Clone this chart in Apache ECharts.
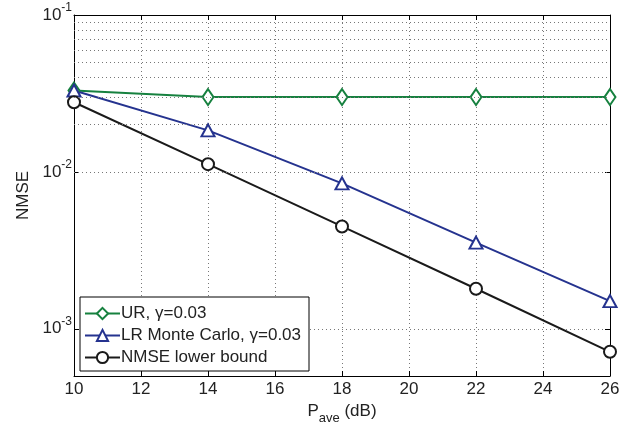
<!DOCTYPE html>
<html>
<head>
<meta charset="utf-8">
<script src="https://cdn.jsdelivr.net/npm/echarts@6/dist/echarts.min.js"></script>
<style>html,body{margin:0;padding:0;background:#fff;}#c{width:636px;height:425px;}</style>
</head>
<body>
<div id="c"></div>
<script>
const xValues = [10, 14, 18, 22, 26];
const urValues = [0.033, 0.030, 0.030, 0.030, 0.030];
const lrValues = [0.033, 0.0184, 0.00845, 0.00354, 0.00150];
const lbValues = [0.0278, 0.0112, 0.00449, 0.00180, 0.000713];
const seriesNames = ['UR, \u03b3=0.03', 'LR Monte Carlo, \u03b3=0.03', 'NMSE lower bound'];
const minorGridValues = [6e-4, 7e-4, 8e-4, 9e-4,
  2e-3, 3e-3, 4e-3, 5e-3, 6e-3, 7e-3, 8e-3, 9e-3,
  2e-2, 3e-2, 4e-2, 5e-2, 6e-2, 7e-2, 8e-2, 9e-2];
const xTicks = {min: 10, max: 26, interval: 2};
const yRange = {min: 5e-4, max: 1e-1};

const FONT = 'Liberation Sans, Arial, sans-serif';
const TXT = '#222';
const GREEN = '#16813f';
const BLUE = '#25338f';
const BLACK = '#1a1a1a';

function pairs(vals) { return xValues.map((x, i) => [x, vals[i]]); }

const gridDot = {show: true, lineStyle: {color: '#777', type: [1, 3], width: 1}};

const chart = echarts.init(document.getElementById('c'), null, {renderer: 'canvas'});
chart.setOption({
  animation: false,
  backgroundColor: '#fff',
  textStyle: {fontFamily: FONT},
  grid: {left: 74, right: 26, top: 15, bottom: 49, containLabel: false, outerBoundsMode: 'none'},
  legend: {
    orient: 'vertical', left: 80, top: 297,
    backgroundColor: '#fff', borderColor: '#000', borderWidth: 1,
    padding: [8, 8, 5, 4], itemGap: 5, itemWidth: 35, itemHeight: 14,
    textStyle: {fontFamily: FONT, fontSize: 17, color: TXT, padding: [0, 0, 0, -4]},
    data: seriesNames
  },
  xAxis: [{
    type: 'value', min: xTicks.min, max: xTicks.max, interval: xTicks.interval,
    axisLine: {show: true, lineStyle: {color: '#000', width: 1}},
    axisTick: {show: true, inside: true, length: 5, lineStyle: {color: '#000'}},
    axisLabel: {fontSize: 17, color: TXT, margin: 5, fontFamily: FONT},
    splitLine: gridDot,
    name: '{a|P}{s|ave}{a| (dB)}', nameLocation: 'middle', nameGap: 17,
    nameTextStyle: {rich: {
      a: {fontSize: 17, color: TXT, fontFamily: FONT},
      s: {fontSize: 13, color: TXT, fontFamily: FONT, padding: [14, 0, 0, 0]}
    }}
  }, {
    type: 'value', position: 'top', min: xTicks.min, max: xTicks.max, interval: xTicks.interval,
    axisLine: {show: true, lineStyle: {color: '#000', width: 1}},
    axisTick: {show: true, inside: true, length: 5, lineStyle: {color: '#000'}},
    axisLabel: {show: false}, splitLine: {show: false}
  }],
  yAxis: [{
    type: 'log', logBase: 10, min: yRange.min, max: yRange.max,
    axisLine: {show: true, lineStyle: {color: '#000', width: 1}},
    axisTick: {show: true, inside: true, length: 5, lineStyle: {color: '#000'}},
    splitLine: gridDot,
    axisLabel: {
      margin: 2, color: TXT,
      formatter: function (v) {
        const e = Math.log10(v);
        if (Math.abs(e - Math.round(e)) > 1e-6) return '';
        return '{b|10}{s|' + Math.round(e) + '}';
      },
      rich: {
        b: {fontSize: 17, color: TXT, fontFamily: FONT},
        s: {fontSize: 12, color: TXT, fontFamily: FONT, padding: [0, 0, 14, 0]}
      }
    },
    name: 'NMSE', nameLocation: 'middle', nameGap: 41, nameRotate: 90,
    nameTextStyle: {fontSize: 17, color: TXT, fontFamily: FONT}
  }, {
    type: 'log', logBase: 10, min: yRange.min, max: yRange.max, position: 'right',
    axisLine: {show: true, lineStyle: {color: '#000', width: 1}},
    axisTick: {show: true, inside: true, length: 5, lineStyle: {color: '#000'}},
    axisLabel: {show: false}, splitLine: {show: false}
  }],
  series: [{
    name: seriesNames[0], type: 'line', data: pairs(urValues),
    symbol: 'emptyDiamond', symbolSize: [11, 16],
    lineStyle: {color: GREEN, width: 2}, itemStyle: {color: GREEN, borderWidth: 2},
    markLine: {
      silent: true, symbol: ['none', 'none'], label: {show: false},
      lineStyle: {color: '#777', type: [1, 3], width: 1},
      data: minorGridValues.map(v => ({yAxis: v}))
    },
    z: 3
  }, {
    name: seriesNames[1], type: 'line', data: pairs(lrValues),
    symbol: 'emptyTriangle', symbolSize: [13, 12],
    lineStyle: {color: BLUE, width: 2}, itemStyle: {color: BLUE, borderWidth: 2},
    z: 3
  }, {
    name: seriesNames[2], type: 'line', data: pairs(lbValues),
    symbol: 'emptyCircle', symbolSize: 12,
    lineStyle: {color: BLACK, width: 2}, itemStyle: {color: BLACK, borderWidth: 2},
    z: 3
  }]
});
</script>
</body>
</html>
